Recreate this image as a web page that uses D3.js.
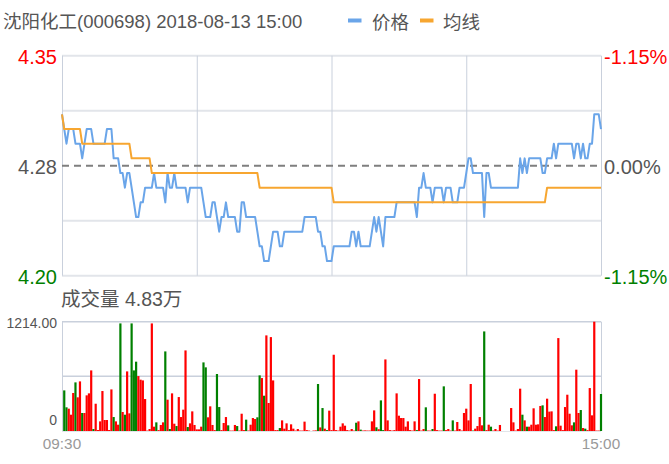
<!DOCTYPE html>
<html><head><meta charset="utf-8">
<script src="https://cdn.jsdelivr.net/npm/d3@7"></script>
<style>
body{margin:0;background:#fff}
svg{display:block}
text{font-family:Arial,"Liberation Sans","Noto Sans CJK SC",sans-serif}
</style>
</head><body>
<svg id="c" width="669" height="464"></svg>
<script>
const title = "沈阳化工(000698) 2018-08-13 15:00";
const legendNames = ["价格", "均线"];
const timeLabels = ["09:30", "15:00"];
const prevClose = 4.275;
const priceTicks = [4.35, 4.275, 4.20];
const priceTickLabels = ["4.35", "4.28", "4.20"];
const pctTickLabels = ["-1.15%", "0.00%", "-1.15%"];
const volumeLabel = "成交量 4.83万";
const volTicks = [1214, 0];
const volTickLabels = ["1214.00", "0"];

const price = [
4.31,4.30,4.29,4.30,4.30,4.30,4.29,4.29,4.29,4.28,
4.29,4.30,4.30,4.30,4.29,4.29,4.29,4.29,4.29,4.29,
4.30,4.30,4.30,4.28,4.28,4.28,4.27,4.27,4.26,4.27,
4.27,4.26,4.25,4.24,4.24,4.25,4.25,4.26,4.26,4.26,
4.26,4.27,4.26,4.26,4.26,4.26,4.25,4.27,4.26,4.26,
4.27,4.26,4.26,4.26,4.26,4.26,4.25,4.26,4.26,4.26,
4.26,4.26,4.26,4.25,4.24,4.24,4.24,4.25,4.25,4.24,
4.23,4.24,4.24,4.25,4.24,4.24,4.24,4.24,4.23,4.23,
4.25,4.25,4.24,4.24,4.24,4.24,4.24,4.23,4.22,4.22,
4.21,4.21,4.21,4.22,4.23,4.23,4.23,4.22,4.22,4.23,
4.23,4.23,4.23,4.23,4.23,4.23,4.23,4.23,4.24,4.24,
4.24,4.24,4.24,4.24,4.23,4.23,4.22,4.22,4.21,4.21,
4.21,4.22,4.22,4.22,4.22,4.22,4.22,4.22,4.22,4.23,
4.23,4.22,4.23,4.22,4.22,4.22,4.22,4.22,4.23,4.24,
4.23,4.24,4.23,4.22,4.24,4.24,4.24,4.24,4.24,4.25,
4.25,4.25,4.25,4.25,4.25,4.25,4.25,4.25,4.24,4.26,
4.26,4.27,4.26,4.26,4.26,4.25,4.26,4.26,4.26,4.26,
4.25,4.26,4.26,4.26,4.25,4.25,4.25,4.26,4.26,4.26,
4.27,4.28,4.28,4.27,4.27,4.27,4.27,4.27,4.24,4.27,
4.27,4.26,4.26,4.26,4.26,4.26,4.26,4.26,4.26,4.26,
4.26,4.26,4.26,4.26,4.28,4.27,4.28,4.27,4.28,4.28,
4.28,4.28,4.28,4.28,4.27,4.27,4.28,4.28,4.28,4.29,
4.28,4.29,4.29,4.29,4.29,4.29,4.29,4.29,4.28,4.29,
4.29,4.28,4.29,4.28,4.28,4.29,4.29,4.31,4.31,4.31,
4.30
];

const avgPrice = [
4.31,4.30,4.30,4.30,4.30,4.30,4.30,4.30,4.30,4.29,
4.29,4.29,4.29,4.29,4.29,4.29,4.29,4.29,4.29,4.29,
4.29,4.29,4.29,4.29,4.29,4.29,4.29,4.29,4.29,4.29,
4.29,4.28,4.28,4.28,4.28,4.28,4.28,4.28,4.28,4.28,
4.27,4.27,4.27,4.27,4.27,4.27,4.27,4.27,4.27,4.27,
4.27,4.27,4.27,4.27,4.27,4.27,4.27,4.27,4.27,4.27,
4.27,4.27,4.27,4.27,4.27,4.27,4.27,4.27,4.27,4.27,
4.27,4.27,4.27,4.27,4.27,4.27,4.27,4.27,4.27,4.27,
4.27,4.27,4.27,4.27,4.27,4.27,4.27,4.27,4.26,4.26,
4.26,4.26,4.26,4.26,4.26,4.26,4.26,4.26,4.26,4.26,
4.26,4.26,4.26,4.26,4.26,4.26,4.26,4.26,4.26,4.26,
4.26,4.26,4.26,4.26,4.26,4.26,4.26,4.26,4.26,4.26,
4.26,4.25,4.25,4.25,4.25,4.25,4.25,4.25,4.25,4.25,
4.25,4.25,4.25,4.25,4.25,4.25,4.25,4.25,4.25,4.25,
4.25,4.25,4.25,4.25,4.25,4.25,4.25,4.25,4.25,4.25,
4.25,4.25,4.25,4.25,4.25,4.25,4.25,4.25,4.25,4.25,
4.25,4.25,4.25,4.25,4.25,4.25,4.25,4.25,4.25,4.25,
4.25,4.25,4.25,4.25,4.25,4.25,4.25,4.25,4.25,4.25,
4.25,4.25,4.25,4.25,4.25,4.25,4.25,4.25,4.25,4.25,
4.25,4.25,4.25,4.25,4.25,4.25,4.25,4.25,4.25,4.25,
4.25,4.25,4.25,4.25,4.25,4.25,4.25,4.25,4.25,4.25,
4.25,4.25,4.25,4.25,4.25,4.25,4.26,4.26,4.26,4.26,
4.26,4.26,4.26,4.26,4.26,4.26,4.26,4.26,4.26,4.26,
4.26,4.26,4.26,4.26,4.26,4.26,4.26,4.26,4.26,4.26,
4.26
];

const volume = [
0,451,263,248,181,422,540,374,551,200,
200,396,418,673,22,303,11,107,444,122,
122,11,462,155,107,70,1195,211,181,662,
196,1195,673,770,610,570,562,355,5,22,
1195,48,96,10,67,96,884,348,22,418,
81,55,377,155,237,895,44,85,218,67,
18,18,48,762,707,152,274,67,10,633,
266,10,89,155,63,5,5,67,55,5,
192,10,126,5,70,144,133,152,618,588,
392,1062,311,1043,562,10,10,33,118,26,
85,10,74,26,5,22,5,5,104,10,
5,0,5,7,522,40,255,26,10,226,
10,847,10,5,48,85,59,10,5,22,
5,92,107,15,5,7,5,5,107,229,
41,20,340,10,795,118,10,5,10,418,
170,144,144,48,107,10,5,107,10,577,
5,22,263,5,5,22,414,10,5,5,
496,10,22,5,118,5,100,22,5,200,
248,118,522,5,26,55,155,63,1106,10,
70,48,5,22,5,67,0,0,0,0,
255,96,5,22,470,181,118,48,48,70,
252,70,74,278,285,155,359,215,218,10,
52,1032,59,10,266,403,192,63,96,681,
200,233,33,26,10,477,174,1214,5,5,
411
];

const svg = d3.select("#c");
const L = 62, R = 601, PT = 55.7, PB = 275.7, VT = 321.7, VB = 431;
const x = d3.scaleLinear().domain([0, price.length - 1]).range([L, R]);
const y = d3.scaleLinear().domain([4.20, 4.35]).range([PB, PT]);
const yv = d3.scaleLinear().domain([0, 1214]).range([VB, VT]);

const hGridC = "#e2e5ea", vGridC = "#c9d0dc";
const blue = "#6aa5e9", orange = "#f7a630";
const red = "#ff0000", green = "#008000", textC = "#555";

// ---- title & legend
svg.append("text").attr("x", 3).attr("y", 28).attr("font-size", 18.5)
  .attr("fill", textC).text(title);
const lg = svg.selectAll(".lg").data(legendNames).enter().append("g");
lg.append("rect").attr("x", (d, i) => 348 + i * 72).attr("y", 18.5)
  .attr("width", 13.5).attr("height", 4).attr("fill", (d, i) => i ? orange : blue);
lg.append("text").attr("x", (d, i) => 372 + i * 71).attr("y", 29)
  .attr("font-size", 18.5).attr("fill", textC).text(d => d);

// ---- price grid
const hGrid = [4.35, 4.3125, 4.2375, 4.20];
svg.selectAll(".hg").data(hGrid).enter().append("line")
  .attr("x1", L).attr("x2", R).attr("y1", d => y(d)).attr("y2", d => y(d))
  .attr("stroke", hGridC).attr("stroke-width", 2);
const vIdx = [0, 60, 120, 180, 240];
svg.selectAll(".vg").data(vIdx).enter().append("line")
  .attr("x1", d => x(d) + 0.5).attr("x2", d => x(d) + 0.5).attr("y1", PT).attr("y2", PB)
  .attr("stroke", vGridC).attr("stroke-width", 1);
svg.append("line").attr("x1", L).attr("x2", R)
  .attr("y1", y(prevClose)).attr("y2", y(prevClose))
  .attr("stroke", "#7f7f7f").attr("stroke-width", 2).attr("stroke-dasharray", "7,5");

// ---- price axis labels
const tickCols = [red, textC, green];
svg.selectAll(".pl").data(priceTicks).enter().append("text")
  .attr("x", 57).attr("y", d => y(d) + 8).attr("text-anchor", "end")
  .attr("font-size", 20).attr("fill", (d, i) => tickCols[i]).text((d, i) => priceTickLabels[i]);
svg.selectAll(".pr").data(priceTicks).enter().append("text")
  .attr("x", 604).attr("y", d => y(d) + 8)
  .attr("font-size", 20).attr("fill", (d, i) => tickCols[i]).text((d, i) => pctTickLabels[i]);

// ---- lines
const line = d3.line().x((d, i) => x(i)).y(d => y(d));
svg.append("path").datum(price).attr("d", line).attr("fill", "none")
  .attr("stroke", blue).attr("stroke-width", 2).attr("stroke-linejoin", "round");
svg.append("path").datum(avgPrice).attr("d", line).attr("fill", "none")
  .attr("stroke", orange).attr("stroke-width", 2).attr("stroke-linejoin", "round");

// ---- volume panel
svg.append("text").attr("x", 61).attr("y", 306).attr("font-size", 19.5)
  .attr("fill", textC).text(volumeLabel);
svg.selectAll(".vh").data([1214, 607]).enter().append("line")
  .attr("x1", L).attr("x2", R).attr("y1", d => yv(d)).attr("y2", d => yv(d))
  .attr("stroke", vGridC).attr("stroke-width", 1.5);
svg.append("line").attr("x1", L).attr("x2", R).attr("y1", VB + 0.5).attr("y2", VB + 0.5)
  .attr("stroke", "#e2e5ea").attr("stroke-width", 1);
svg.selectAll(".vv").data([0, 240]).enter().append("line")
  .attr("x1", d => x(d) + 0.5).attr("x2", d => x(d) + 0.5).attr("y1", VT).attr("y2", VB)
  .attr("stroke", vGridC).attr("stroke-width", 1);

svg.selectAll(".vb").data(volume).enter().append("rect")
  .attr("x", (d, i) => x(i) - 1.1).attr("width", 2.2)
  .attr("y", d => yv(d)).attr("height", d => VB - yv(d))
  .attr("fill", (d, i) => ((i === 0 ? price[0] >= prevClose : price[i] >= price[i - 1]) ? red : green));

svg.selectAll(".vl").data(volTicks).enter().append("text")
  .attr("x", 57).attr("y", (d, i) => i === 0 ? yv(d) + 6 : yv(d) - 6)
  .attr("text-anchor", "end").attr("font-size", 14).attr("fill", textC)
  .text((d, i) => volTickLabels[i]);

// ---- time labels
svg.selectAll(".tl").data([0, 240]).enter().append("text")
  .attr("x", d => x(d)).attr("y", 449).attr("text-anchor", "middle")
  .attr("font-size", 15.3).attr("fill", "#999").text((d, i) => timeLabels[i]);
</script>
</body></html>
